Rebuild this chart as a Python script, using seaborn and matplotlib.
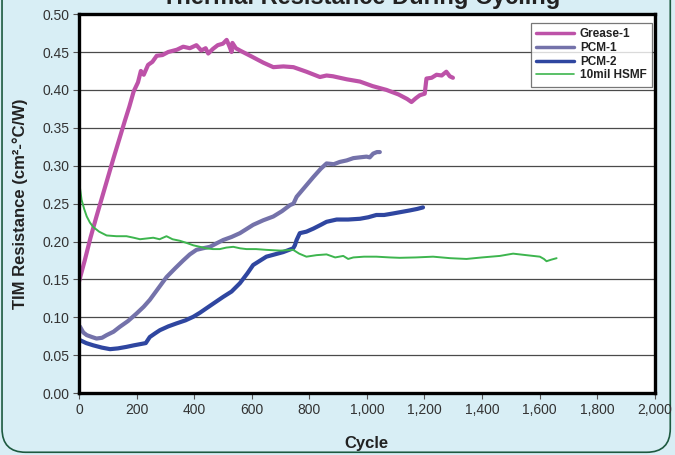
import matplotlib
matplotlib.use("Agg")
import matplotlib.pyplot as plt
from matplotlib.patches import FancyBboxPatch
from matplotlib.ticker import FuncFormatter, MultipleLocator
import pandas as pd
import seaborn as sns

# Values (cycle, TIM resistance)
grease_x = [0, 20, 40, 60, 80, 100, 120, 140, 160, 175, 190, 205, 215, 225, 240, 255, 270, 290, 310,
            340, 362, 385, 408, 425, 440, 449, 465, 482, 500, 513, 522, 530, 533, 545, 559, 600, 640,
            675, 710, 745, 790, 837, 860, 882, 930, 976, 1020, 1068, 1110, 1140, 1155, 1170, 1184,
            1201, 1207, 1225, 1242, 1260, 1276, 1288, 1299]
grease_y = [0.147, 0.175, 0.205, 0.232, 0.258, 0.284, 0.31, 0.335, 0.36, 0.378, 0.398, 0.41, 0.425,
            0.42, 0.433, 0.437, 0.445, 0.446, 0.45, 0.453, 0.457, 0.455, 0.459, 0.452, 0.455, 0.448,
            0.454, 0.459, 0.461, 0.466, 0.458, 0.450, 0.462, 0.455, 0.452, 0.444, 0.436, 0.430,
            0.431, 0.430, 0.424, 0.417, 0.419, 0.418, 0.414, 0.411, 0.405, 0.400, 0.394, 0.388,
            0.384, 0.389, 0.393, 0.395, 0.415, 0.416, 0.420, 0.419, 0.424, 0.418, 0.416]

pcm1_x = [3, 15, 27, 45, 61, 80, 96, 120, 142, 170, 200, 225, 246, 275, 304, 335, 362, 385, 408,
          430, 455, 480, 501, 530, 559, 580, 605, 640, 675, 705, 733, 745, 756, 785, 814, 840,
          860, 885, 906, 930, 953, 975, 999, 1010, 1022, 1035, 1045]
pcm1_y = [0.088, 0.080, 0.0765, 0.074, 0.072, 0.073, 0.0765, 0.081, 0.0875, 0.095, 0.105, 0.114,
          0.123, 0.138, 0.153, 0.165, 0.175, 0.183, 0.189, 0.191, 0.193, 0.198, 0.202, 0.206,
          0.211, 0.216, 0.222, 0.228, 0.233, 0.240, 0.248, 0.250, 0.259, 0.272, 0.285, 0.296,
          0.303, 0.302, 0.305, 0.307, 0.310, 0.311, 0.312, 0.311, 0.316, 0.318, 0.318]

pcm2_x = [3, 25, 50, 80, 108, 135, 165, 190, 218, 232, 246, 265, 281, 310, 339, 370, 397, 420,
          443, 470, 501, 530, 559, 585, 605, 630, 651, 680, 709, 730, 744, 750, 756, 767, 790,
          814, 840, 860, 895, 935, 976, 1005, 1033, 1060, 1091, 1120, 1149, 1175, 1195]
pcm2_y = [0.070, 0.066, 0.063, 0.060, 0.058, 0.059, 0.061, 0.063, 0.065, 0.066, 0.074, 0.079,
          0.083, 0.088, 0.092, 0.096, 0.1007, 0.106, 0.112, 0.119, 0.127, 0.134, 0.145, 0.158,
          0.169, 0.175, 0.180, 0.183, 0.186, 0.189, 0.191, 0.195, 0.202, 0.211, 0.213, 0.217,
          0.222, 0.226, 0.229, 0.229, 0.230, 0.232, 0.235, 0.235, 0.237, 0.239, 0.241, 0.243,
          0.245]

hsmf_x = [3, 9, 18, 27, 38, 50, 70, 96, 130, 165, 190, 212, 235, 258, 280, 304, 325, 350, 375,
          397, 420, 443, 465, 489, 512, 536, 560, 582, 615, 651, 700, 744, 765, 790, 825, 860,
          890, 918, 935, 953, 990, 1033, 1080, 1114, 1170, 1230, 1290, 1346, 1400, 1462, 1508,
          1554, 1601, 1615, 1624, 1640, 1659]
hsmf_y = [0.272, 0.255, 0.243, 0.233, 0.225, 0.219, 0.213, 0.208, 0.207, 0.207, 0.205, 0.203,
          0.204, 0.205, 0.203, 0.207, 0.203, 0.201, 0.198, 0.195, 0.193, 0.191, 0.190, 0.190,
          0.192, 0.193, 0.191, 0.190, 0.190, 0.189, 0.188, 0.189, 0.184, 0.180, 0.182, 0.183,
          0.179, 0.181, 0.177, 0.179, 0.180, 0.180, 0.179, 0.1785, 0.179, 0.180, 0.178, 0.177,
          0.179, 0.181, 0.184, 0.182, 0.180, 0.177, 0.174, 0.176, 0.178]

series = ["Grease-1", "PCM-1", "PCM-2", "10mil HSMF"]
colors = ["#bd52a8", "#7472aa", "#2f46a0", "#3db54e"]
widths = [3.0, 3.0, 3.0, 1.4]

frames = []
for name, xs, ys in zip(series, [grease_x, pcm1_x, pcm2_x, hsmf_x], [grease_y, pcm1_y, pcm2_y, hsmf_y]):
    frames.append(pd.DataFrame({"Cycle": xs, "R": ys, "series": name}))
df = pd.concat(frames, ignore_index=True)

sns.set_style("white")
plt.rcParams['font.family'] = ['Liberation Sans', 'DejaVu Sans']

bg = "#d8eef5"
fig = plt.figure(figsize=(6.75, 4.55), dpi=100)
fig.patch.set_facecolor(bg)
# rounded panel border (top edge runs off the picture)
fig.patches.append(FancyBboxPatch((0.003, 0.006), 0.990, 1.2, boxstyle="round,pad=0,rounding_size=0.035",
                                  transform=fig.transFigure, facecolor=bg, edgecolor="#1d5a40",
                                  lw=1.2, zorder=-5, mutation_aspect=675 / 455))

ax = fig.add_axes([0.117, 0.136, 0.853, 0.833])
ax.set_zorder(2)
ax.set_facecolor("white")

for name, c, w in zip(series, colors, widths):
    sns.lineplot(data=df[df["series"] == name], x="Cycle", y="R", color=c, lw=w,
                 label=name, ax=ax, sort=False, estimator=None)

ax.set_xlim(0, 2000)
ax.set_ylim(0, 0.5)
ax.xaxis.set_major_locator(MultipleLocator(200))
ax.yaxis.set_major_locator(MultipleLocator(0.05))
ax.xaxis.set_major_formatter(FuncFormatter(lambda v, p: f"{int(v):,}"))
ax.yaxis.set_major_formatter(FuncFormatter(lambda v, p: f"{v:.2f}"))
ax.grid(axis='y', color='#4a4a4a', lw=0.9)
ax.grid(axis='x', visible=False)
ax.set_axisbelow(True)
for s in ax.spines.values():
    s.set_color('black')
    s.set_linewidth(2.4)
ax.tick_params(axis='both', direction='out', length=4, width=0.8, color='#555555',
               labelsize=10, labelcolor='#333333', bottom=True, left=True, pad=3)

ax.set_xlabel("Cycle", fontsize=12, fontweight='bold', color='#222222', labelpad=14)
ax.set_ylabel("TIM Resistance (cm²-°C/W)", fontsize=12, fontweight='bold', color='#222222', labelpad=10)

fig.text(0.535, 1.005, "Thermal Resistance During Cycling", ha='center', va='center',
         fontsize=17, fontweight='bold', color='#222222')

leg = ax.legend(loc='upper right', bbox_to_anchor=(0.995, 0.977), frameon=True, fancybox=False,
                handlelength=3.2, handletextpad=0.5, borderpad=0.45, labelspacing=0.15,
                borderaxespad=0, prop={'weight': 'bold', 'size': 8.5})
leg.get_frame().set_edgecolor('#555555')
leg.get_frame().set_linewidth(0.9)
for t in leg.get_texts():
    t.set_color('#222222')
for h, w in zip(leg.get_lines(), widths):
    h.set_linewidth(2.5 if w > 2 else 1.2)

fig.savefig("out.png", dpi=100, facecolor=fig.get_facecolor())
